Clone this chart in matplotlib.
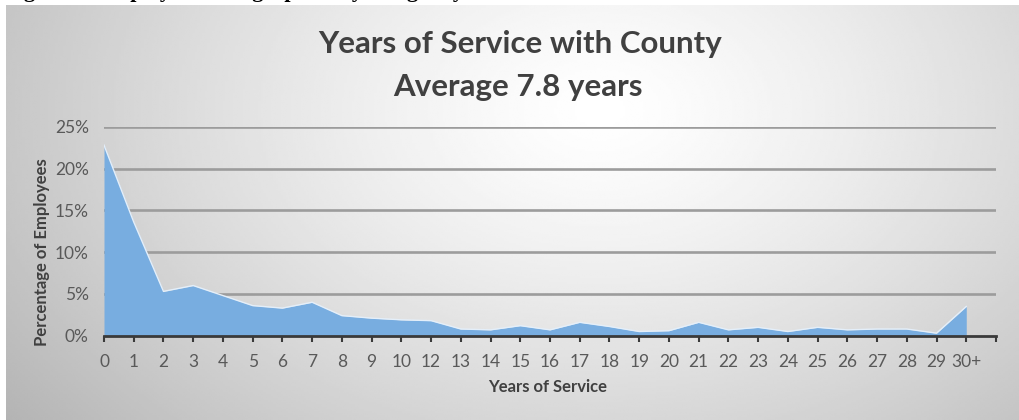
import numpy as np
import matplotlib
matplotlib.use("Agg")
import matplotlib.pyplot as plt

# share of employees by completed years of service (percent)
years = ['0', '1', '2', '3', '4', '5', '6', '7', '8', '9', '10',
         '12', '13', '14', '15', '16', '17', '18', '19', '20', '21',
         '22', '23', '24', '25', '26', '27', '28', '29', '30+']
pct_employees = [22.8, 13.6, 5.3, 6.0, 4.8, 3.6, 3.3, 4.0, 2.4, 2.1, 1.9,
                 1.8, 0.8, 0.7, 1.2, 0.7, 1.6, 1.1, 0.5, 0.6, 1.6,
                 0.7, 1.0, 0.5, 1.0, 0.7, 0.8, 0.8, 0.3, 3.5]
y_ticks = [0, 5, 10, 15, 20, 25]

W, H = 1019, 420
fig = plt.figure(figsize=(W / 100, H / 100), dpi=100)
fig.patch.set_facecolor('white')

# caption of the report page, only its lower edge is left on the page
fig.text(4 / W, 1 + 3.5 / H, 'Figure 6: Employee Demographics by Longevity',
         family='Liberation Serif', weight='bold', fontsize=16,
         ha='left', va='baseline', color='black', zorder=-1)

# chart panel with a soft radial grey fill
bg = fig.add_axes([6 / W, 0, 1 - 6 / W, 1 - 5 / H])
gx, gy = np.meshgrid(np.linspace(6, W, 400), np.linspace(5, H, 200))
r = np.sqrt(((gx - 600) / 620) ** 2 + ((gy - 110) / 420) ** 2)
shade = np.clip(1.0 - 0.23 * r ** 1.3, 0, 1)
bg.imshow(shade, cmap='gray', vmin=0, vmax=1, aspect='auto',
          extent=[0, 1, 0, 1], interpolation='bilinear')
bg.set_axis_off()

ax = fig.add_axes([104 / W, 1 - 335.7 / H, (996 - 104) / W, (335.7 - 126.7) / H])
ax.patch.set_alpha(0)
x = np.arange(len(years))
ax.fill_between(x, pct_employees, 0, color='#78ade0', lw=0, zorder=3)
ax.plot(x, pct_employees, color='#e4effa', lw=1.0, zorder=4)

for v in y_ticks[1:]:
    ax.axhline(v, color='#9c9c9c', lw=1.9, zorder=1)

ax.set_xlim(0, len(years))
ax.set_ylim(0, 25)
ax.set_yticks(y_ticks)
ax.set_yticklabels(['%d%%' % v for v in y_ticks])
ax.set_xticks(np.arange(len(years) + 1))
ax.set_xticklabels(years + [''])

for s in ['top', 'right', 'left']:
    ax.spines[s].set_visible(False)
ax.spines['bottom'].set_color('#3a3a3a')
ax.spines['bottom'].set_linewidth(2)
ax.spines['bottom'].set_zorder(5)
ax.tick_params(axis='x', direction='out', length=4, width=1.5, color='#3a3a3a',
               labelsize=12.5, labelcolor='#595959', pad=9)
ax.tick_params(axis='y', length=0, labelsize=12.5, labelcolor='#595959', pad=11)
for lab in ax.get_xticklabels() + ax.get_yticklabels():
    lab.set_family('Lato')

fig.text(42 / W, 1 - 252 / H, 'Percentage of Employees', rotation=90,
         family='Lato', weight='bold', fontsize=12, color='#404040',
         ha='center', va='center')
fig.text(548 / W, 1 - 387 / H, 'Years of Service', family='Lato',
         weight='bold', fontsize=12, color='#404040', ha='center', va='center')

fig.text(520 / W, 1 - 44 / H, 'Years of Service with County', family='Lato',
         weight='bold', fontsize=22.5, color='#404040', ha='center', va='center')
fig.text(518 / W, 1 - 87 / H, 'Average 7.8 years', family='Lato',
         weight='bold', fontsize=22.5, color='#404040', ha='center', va='center')

fig.savefig('out.png', dpi=100)
